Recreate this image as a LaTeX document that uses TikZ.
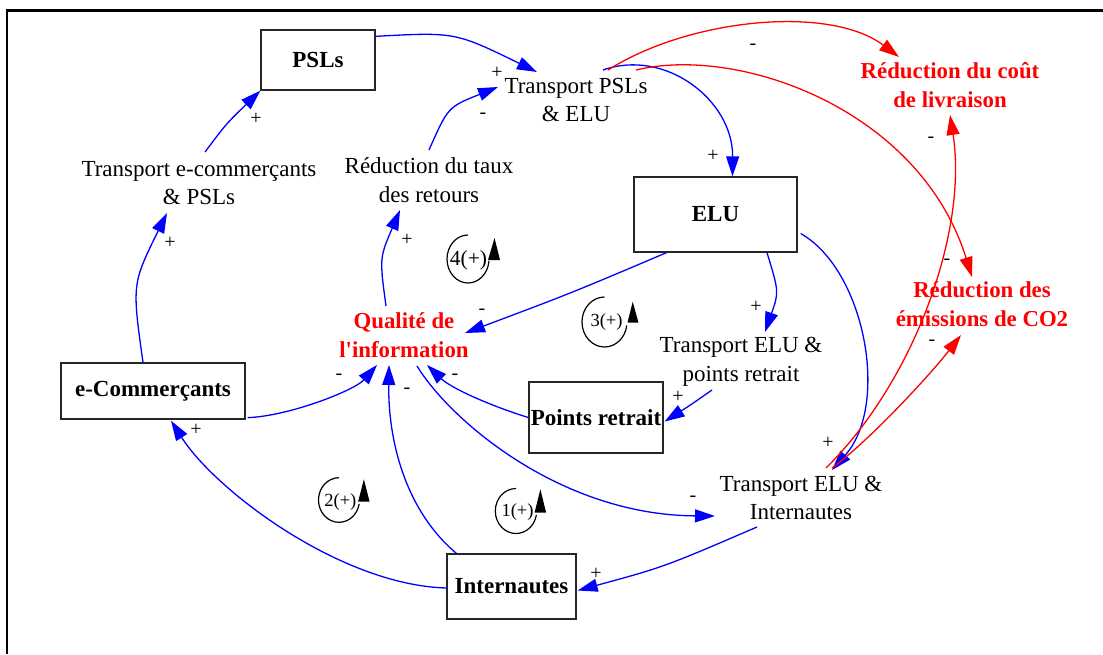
\documentclass[tikz,border=0pt]{standalone}
\usepackage{fontspec}
\setmainfont{Liberation Serif}
\usetikzlibrary{arrows.meta,calc}
\begin{document}
\begin{tikzpicture}[x=1pt,y=-1pt,
  conn/.style={draw=blue, line width=1.3pt, -{Triangle[length=20pt,width=13pt]}},
  rconn/.style={draw=red, line width=1.3pt, -{Triangle[length=20pt,width=13pt]}},
  box/.style={draw=black!85, line width=1.3pt, inner sep=0pt, font=\fontsize{23}{28}\selectfont\bfseries},
  txt/.style={inner sep=0pt, align=center, font=\fontsize{23}{28.5}\selectfont},
  rtxt/.style={inner sep=0pt, align=center, text=red, font=\fontsize{22.8}{28.5}\selectfont\bfseries},
  sgn/.style={inner sep=0pt, font=\fontsize{20}{20}\selectfont},
  loopl/.style={inner sep=0pt, font=\fontsize{18.5}{18.5}\selectfont},
  looparc/.style={draw=black, line width=1.2pt},
]
\useasboundingbox (0,0) rectangle (1103,654);
% frame
\draw[line width=2.7pt] (7,654) -- (7,10.5) -- (1103,10.5);

% boxes
\node[box, minimum width=114pt, minimum height=60pt] (psls) at (318,60) {PSLs};
\node[box, minimum width=163pt, minimum height=75pt] (elu) at (715.5,214.5) {ELU};
\node[box, minimum width=184pt, minimum height=56pt] (ecom) at (153,391) {e-Commerçants};
\node[box, minimum width=134pt, minimum height=71pt] (pr) at (596,417.5) {Points retrait};
\node[box, minimum width=129pt, minimum height=65pt] (inter) at (511.5,586.5) {Internautes};

% text variables
\node[txt] (tpe) at (199,183) {Transport e-commerçants\\\& PSLs};
\node[txt] (trt) at (429,180) {Réduction du taux\\des retours};
\node[txt] (tpsl) at (576,100) {Transport PSLs\\\& ELU};
\node[txt] (tep) at (741,362) {Transport ELU \&\\points retrait};
\node[txt] (tei) at (801,498) {Transport ELU \&\\Internautes};
\node[rtxt] (qual) at (404,335) {Qualité de\\l\textquotesingle information};
\node[rtxt] (rcout) at (950,85) {Réduction du coût\\de livraison};
\node[rtxt] (remis) at (982,304) {Réduction des\\émissions de CO2};

% blue connectors
\draw[conn] ($(tpe)+(6,-31)$) .. controls (226,124) .. (psls.south west);
\draw[conn] ($(ecom.north)+(-10,0)$) .. controls (132,284) .. ($(tpe)+(-32,30)$);
\draw[conn] ($(psls.north east)+(0,7)$) .. controls (455,32) .. ($(tpsl)+(-39,-28)$);
\draw[conn] ($(trt)+(0,-30)$) .. controls (448,107) .. ($(tpsl)+(-78,-13)$);
\draw[conn] ($(qual)+(-18,-29)$) .. controls (379.5,258) .. ($(trt)+(-29,30)$);
\draw[conn] ($(tpsl)+(27,-30)$) .. controls (665,48) and (733,100) .. ($(elu.north)+(17,0)$);
\draw[conn] ($(elu.south)+(-49,0)$) .. controls (571.5,293) .. ($(qual)+(61,-2)$);
\draw[conn] ($(elu.south)+(51.5,0)$) .. controls (779,292) .. ($(tep)+(24,-30)$);
\draw[conn] ($(elu.east)+(3,19)$) .. controls (865,270) and (890,405) .. ($(tei)+(31,-28)$);
\draw[conn] ($(tep)+(-29,28)$) .. controls (690.5,405) .. ($(pr.east)+(1,4)$);
\draw[conn] (pr.west) .. controls (494,407) and (452,389) .. ($(qual)+(23,30)$);
\draw[conn] ($(ecom.south east)+(2,-2)$) .. controls (290,416) and (355,390) .. ($(qual)+(-27,30)$);
\draw[conn] ($(inter.north west)+(10,0)$) .. controls (405,510) and (388,440) .. ($(qual)+(-15,30)$);
\draw[conn] ($(qual)+(13,31)$) .. controls (450,420) and (560,515) .. ($(tei)+(-86,18)$);
\draw[conn] ($(tei)+(-44,29)$) .. controls (664,567) .. ($(inter.east)+(1,4)$);
\draw[conn] ($(inter.west)+(0,1.5)$) .. controls (340,585) and (215,490) .. ($(ecom.south)+(18,1)$);

% red connectors
\draw[rconn] ($(tpsl)+(32,-30)$) .. controls (690,18) and (830,5) .. ($(rcout)+(-51,-28)$);
\draw[rconn] ($(tpsl)+(60,-30)$) .. controls (740,45) and (920,110) .. ($(remis)+(-10,-27)$);
\draw[rconn] ($(tei)+(25,-30)$) .. controls (915,380) and (968,230) .. ($(rcout)+(0,30)$);
\draw[rconn] ($(tei)+(31,-30)$) .. controls (870,440) and (930,375) .. ($(remis)+(-21,31)$);

% polarity signs
\node[sgn] (s1) at (256,119) {+};
\node[sgn] (s2) at (170,243) {+};
\node[sgn] (s3) at (497,73) {+};
\node[sgn] (s4) at (483,116) {-};
\node[sgn] (s5) at (407,240) {+};
\node[sgn] (s6) at (713,156) {+};
\node[sgn] (s7) at (753,47) {-};
\node[sgn] (s8) at (947,262) {-};
\node[sgn] (s9) at (482,312) {-};
\node[sgn] (s10) at (756,307) {+};
\node[sgn] (s11) at (828,443) {+};
\node[sgn] (s12) at (678,397) {+};
\node[sgn] (s13) at (455,377) {-};
\node[sgn] (s14) at (339,377) {-};
\node[sgn] (s15) at (407,391) {-};
\node[sgn] (s16) at (693,499) {-};
\node[sgn] (s17) at (596,574) {+};
\node[sgn] (s18) at (196,430) {+};
\node[sgn] (s19) at (931,140) {-};
\node[sgn] (s20) at (932,343) {-};

% loop markers
\draw[looparc] (468,259) ++(270:21 and 24) arc[start angle=270, end angle=5, x radius=21, y radius=24];
\fill (488,260) -- (500,260) -- (494.5,238) -- cycle;
\node[loopl, font=\fontsize{21.5}{21.5}\selectfont] (lp4) at (468.5,260) {4(+)};

\draw[looparc] (604.5,322) ++(270:22.5 and 25) arc[start angle=270, end angle=8, x radius=22.5, y radius=25];
\fill (627.5,322.7) -- (638.5,322.7) -- (632.7,301.7) -- cycle;
\node[loopl] (lp3) at (606.5,322) {3(+)};

\draw[looparc] (339,500) ++(270:20.5 and 22.3) arc[start angle=270, end angle=10, x radius=20.5, y radius=22.3];
\fill (358.1,501.7) -- (369.6,501.7) -- (363.9,479.3) -- cycle;
\node[loopl] (lp2) at (340.4,501.7) {2(+)};

\draw[looparc] (516,511) ++(270:20.7 and 22.5) arc[start angle=270, end angle=10, x radius=20.7, y radius=22.5];
\fill (534.5,512.7) -- (546.1,512.7) -- (540.4,489.3) -- cycle;
\node[loopl] (lp1) at (517.5,511.7) {1(+)};
\end{tikzpicture}
\end{document}
